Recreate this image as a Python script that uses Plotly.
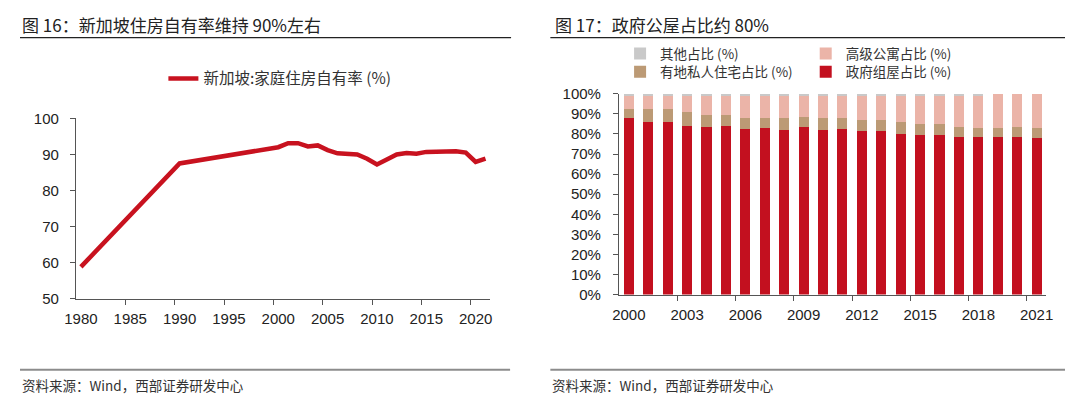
import plotly.graph_objects as go

# ---------------- data ----------------
# Left chart: Singapore household home-ownership rate (%)
line_years = [1980, 1990, 2000, 2001, 2002, 2003, 2004, 2005, 2006, 2007, 2008,
              2009, 2010, 2011, 2012, 2013, 2014, 2015, 2016, 2017, 2018, 2019,
              2020, 2021]
own_rate = [58.8, 87.5, 92.0, 93.1, 93.1, 92.2, 92.5, 91.2, 90.3, 90.0, 90.0,
            88.8, 87.2, 88.6, 90.0, 90.4, 90.2, 90.7, 90.8, 90.6, 90.9, 90.5,
            87.9, 88.8]
line_x_ticks = [1980, 1985, 1990, 1995, 2000, 2005, 2010, 2015, 2020]

# Right chart: share of dwelling types (%)
bar_years = list(range(2000, 2022))
gov_share = [87.8, 86.0, 85.7, 84.1, 83.7, 84.1, 82.5, 83.0, 82.1, 83.3, 82.1,
             82.5, 81.3, 81.6, 80.0, 79.7, 79.7, 78.4, 78.4, 78.4, 78.6, 77.9]
landed_share = [4.7, 6.2, 6.5, 6.9, 5.5, 5.1, 5.6, 5.1, 5.7, 5.3, 5.7,
                5.6, 5.7, 5.4, 5.7, 5.5, 5.2, 5.1, 4.8, 4.8, 5.1, 5.0]
condo_share = [6.5, 6.8, 6.8, 8.0, 9.8, 9.8, 10.9, 10.9, 11.2, 10.4, 11.2,
               10.9, 12.0, 12.0, 13.6, 14.0, 14.3, 15.6, 15.9, 16.8, 16.3, 17.1]
other_share = [1.0, 1.0, 1.0, 1.0, 1.0, 1.0, 1.0, 1.0, 1.0, 1.0, 1.0,
               1.0, 1.0, 1.0, 0.7, 0.8, 0.8, 0.9, 0.9, 0.0, 0.0, 0.0]
bar_x_ticks = [2000, 2003, 2006, 2009, 2012, 2015, 2018, 2021]

# page body has an 8px margin; keep the figure inside the 1080x404 window
OFF = 8
W, H = 1080 - 2 * OFF, 404 - 2 * OFF
def px(x):
    return min(max((x - OFF) / W, 0), 1)
def py(y):
    return min(max(1 - (y - OFF) / H, 0), 1)

TICKFONT = dict(family="Liberation Sans, Arial, sans-serif", size=15, color="#222222")
CJK = "Noto Sans CJK SC, sans-serif"
AXC = "#555555"

fig = go.Figure()

fig.add_trace(go.Scatter(
    x=line_years, y=own_rate, mode="lines", name="新加坡:家庭住房自有率 (%)",
    line=dict(color="#C8121F", width=4.5), xaxis="x", yaxis="y", legend="legend",
))

bar_specs = [
    ("政府组屋占比 (%)", gov_share, "#C3101F", "legend5"),
    ("有地私人住宅占比 (%)", landed_share, "#BC9A75", "legend4"),
    ("高级公寓占比 (%)", condo_share, "#EBB4A8", "legend3"),
    ("其他占比 (%)", other_share, "#C9C9C9", "legend2"),
]
for name, vals, col, lg in bar_specs:
    fig.add_trace(go.Bar(
        x=bar_years, y=vals, name=name, marker=dict(color=col, line=dict(width=0)),
        width=0.52, xaxis="x2", yaxis="y2", legend=lg,
    ))

def leg(x, y, size):
    return dict(x=x, y=y, xanchor="left", yanchor="middle", orientation="h",
                bgcolor="rgba(0,0,0,0)", font=dict(family=CJK, size=size, color="#333333"),
                itemclick=False, itemdoubleclick=False)

fig.update_layout(
    width=W, height=H, margin=dict(l=0, r=0, t=0, b=0),
    paper_bgcolor="white", plot_bgcolor="white", barmode="stack",
    showlegend=True,
    legend=leg(px(154), py(72.7), 15.5),
    legend2=leg(px(619), py(46.5), 13.5),
    legend3=leg(px(808), py(46.5), 13.5),
    legend4=leg(px(619), py(65.5), 13.5),
    legend5=leg(px(808), py(65.5), 13.5),
    xaxis=dict(domain=[px(65), px(487)], anchor="y", range=[1979.5, 2021.5],
               tickvals=line_x_ticks, ticks="", showline=True, linecolor=AXC, linewidth=1.3,
               showgrid=False, zeroline=False, tickfont=TICKFONT, ticklabelstandoff=6,
               minor=dict(tickvals=[1984.5, 1989.5, 1994.5, 1999.5, 2004.5, 2009.5, 2014.5, 2019.5],
                          ticks="outside", ticklen=5, tickcolor=AXC, tickwidth=1.2, showgrid=False)),
    yaxis=dict(domain=[py(302.5), py(114)], anchor="x", range=[50, 100], dtick=10,
               ticks="outside", ticklen=5, tickcolor=AXC, tickwidth=1.2,
               showline=True, linecolor=AXC, linewidth=1.3, showgrid=False, zeroline=False,
               tickfont=TICKFONT, ticklabelstandoff=8),
    xaxis2=dict(domain=[px(618), px(1053)], anchor="y2", range=[1999.5, 2021.5],
                tickvals=bar_x_ticks, ticks="", showline=True, linecolor=AXC, linewidth=1.3,
                showgrid=False, zeroline=False, tickfont=TICKFONT, ticklabelstandoff=6,
                minor=dict(tickvals=[2002.5, 2005.5, 2008.5, 2011.5, 2014.5, 2017.5, 2020.5],
                           ticks="outside", ticklen=5, tickcolor=AXC, tickwidth=1.2, showgrid=False)),
    yaxis2=dict(domain=[py(298.3), py(88.3)], anchor="x2", range=[0, 100], dtick=10,
                ticksuffix="%", ticks="outside", ticklen=5, tickcolor=AXC, tickwidth=1.2,
                showline=True, linecolor=AXC, linewidth=1.3, showgrid=False, zeroline=False,
                tickfont=TICKFONT, ticklabelstandoff=9),
)

ann = []
ann.append(dict(text="图 16：新加坡住房自有率维持 90%左右", x=px(4), y=py(16), xref="paper", yref="paper",
                xanchor="left", yanchor="middle", showarrow=False,
                font=dict(family=CJK, size=17, color="#222222")))
ann.append(dict(text="图 17：政府公屋占比约 80%", x=px(551), y=py(16), xref="paper", yref="paper",
                xanchor="left", yanchor="middle", showarrow=False,
                font=dict(family=CJK, size=17, color="#222222")))
for xs in (3, 548):
    ann.append(dict(text="资料来源：Wind，西部证券研发中心", x=px(xs), y=py(393), xref="paper", yref="paper",
                    xanchor="left", yanchor="middle", showarrow=False,
                    font=dict(family=CJK, size=13.5, color="#333333")))
fig.update_layout(annotations=ann)

shapes = []
for x0, x1 in ((8, 508), (548, 1072)):
    shapes.append(dict(type="line", xref="paper", yref="paper", x0=px(x0), x1=px(x1),
                       y0=py(29.5), y1=py(29.5), line=dict(color="#222222", width=1.3)))
for x0, x1 in ((8, 507), (548, 1072)):
    shapes.append(dict(type="line", xref="paper", yref="paper", x0=px(x0), x1=px(x1),
                       y0=py(377), y1=py(377), line=dict(color="#8C8C8C", width=2)))
fig.update_layout(shapes=shapes)

fig.write_html("out.html")
